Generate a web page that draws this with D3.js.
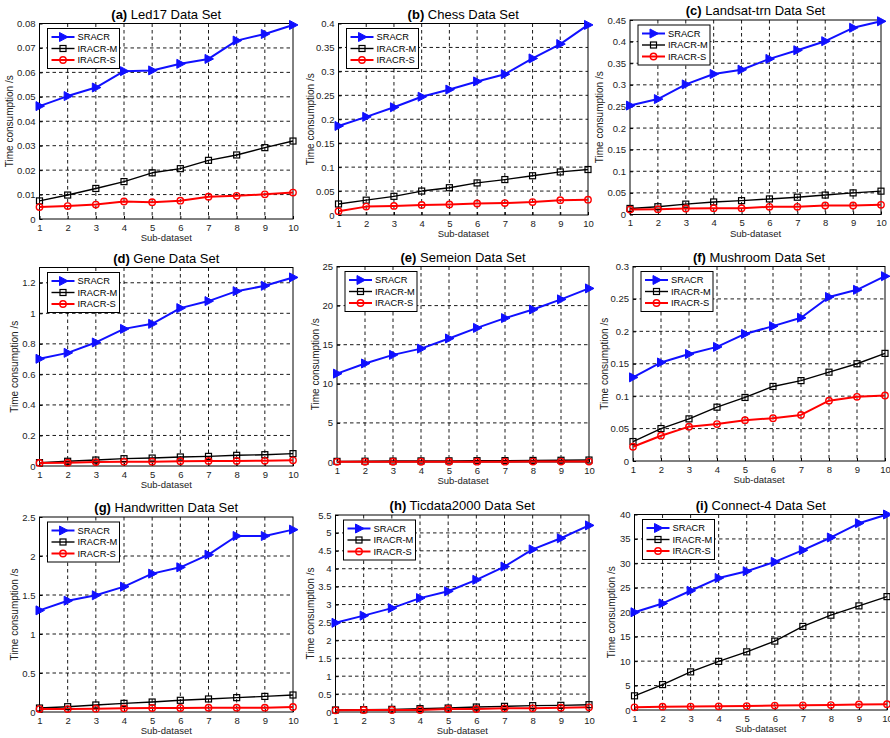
<!DOCTYPE html>
<html><head><meta charset="utf-8">
<script src="https://cdn.jsdelivr.net/npm/d3@7/dist/d3.min.js"></script>
<style>
body{margin:0;background:#fff}
svg{display:block}
text{font-family:Arial,"Liberation Sans",Helvetica,sans-serif}
</style>
</head><body>
<svg id="chart" width="890" height="738"></svg>
<script>
// ---------- data ----------
const subDatasets = [1,2,3,4,5,6,7,8,9,10];
const seriesNames = ["SRACR","IRACR-M","IRACR-S"];
const panelLetters = ["(a)","(b)","(c)","(d)","(e)","(f)","(g)","(h)","(i)"];
const panelNames = ["Led17 Data Set","Chess Data Set","Landsat-trn Data Set","Gene Data Set","Semeion Data Set","Mushroom Data Set","Handwritten Data Set","Ticdata2000 Data Set","Connect-4 Data Set"];
const xLabel = "Sub-dataset";
const yLabel = "Time consumption /s";

const led17SRACR = [0.0462,0.0503,0.0538,0.0605,0.0608,0.0635,0.0655,0.0730,0.0757,0.0794];
const led17M     = [0.0074,0.0098,0.0125,0.0153,0.0189,0.0206,0.0240,0.0262,0.0292,0.0319];
const led17S     = [0.0049,0.0053,0.0059,0.0072,0.0069,0.0075,0.0091,0.0095,0.0101,0.0108];
const led17Ticks = [0,0.01,0.02,0.03,0.04,0.05,0.06,0.07,0.08];

const chessSRACR = [0.186,0.205,0.225,0.247,0.262,0.279,0.294,0.327,0.357,0.397];
const chessM     = [0.023,0.031,0.039,0.050,0.057,0.067,0.074,0.082,0.090,0.095];
const chessS     = [0.008,0.0175,0.019,0.021,0.022,0.024,0.025,0.027,0.031,0.032];
const chessTicks = [0,0.05,0.1,0.15,0.2,0.25,0.3,0.35,0.4];

const landsatSRACR = [0.252,0.267,0.301,0.325,0.335,0.360,0.380,0.401,0.432,0.447];
const landsatM     = [0.014,0.018,0.024,0.029,0.032,0.036,0.040,0.045,0.050,0.054];
const landsatS     = [0.0115,0.0123,0.0139,0.0147,0.0147,0.0178,0.0178,0.0208,0.0208,0.0224];
const landsatTicks = [0,0.05,0.1,0.15,0.2,0.25,0.3,0.35,0.4,0.45];

const geneSRACR = [0.702,0.741,0.809,0.898,0.931,1.034,1.080,1.145,1.180,1.235];
const geneM     = [0.022,0.031,0.039,0.048,0.052,0.059,0.063,0.070,0.074,0.081];
const geneS     = [0.020,0.022,0.026,0.028,0.028,0.031,0.033,0.033,0.034,0.037];
const geneTicks = [0,0.2,0.4,0.6,0.8,1,1.2];
const geneMax   = 1.3;

const semeionSRACR = [11.3,12.6,13.7,14.5,15.8,17.15,18.4,19.5,20.8,22.2];
const semeionM     = [0.08,0.10,0.12,0.14,0.15,0.17,0.18,0.20,0.22,0.25];
const semeionS     = [0.02,0.025,0.03,0.03,0.035,0.04,0.045,0.05,0.055,0.06];
const semeionTicks = [0,5,10,15,20,25];

const mushroomSRACR = [0.129,0.152,0.165,0.176,0.196,0.208,0.221,0.253,0.264,0.285];
const mushroomM     = [0.030,0.050,0.065,0.083,0.098,0.115,0.124,0.137,0.150,0.166];
const mushroomS     = [0.022,0.039,0.053,0.057,0.063,0.066,0.071,0.093,0.099,0.101];
const mushroomTicks = [0,0.05,0.1,0.15,0.2,0.25,0.3];

const handSRACR = [1.303,1.427,1.496,1.607,1.774,1.855,2.017,2.256,2.256,2.338];
const handM     = [0.051,0.068,0.090,0.111,0.128,0.150,0.167,0.184,0.200,0.218];
const handS     = [0.038,0.038,0.043,0.047,0.051,0.051,0.056,0.056,0.056,0.064];
const handTicks = [0,0.5,1,1.5,2,2.5];

const ticSRACR = [2.49,2.69,2.90,3.18,3.37,3.69,4.06,4.54,4.85,5.21];
const ticM     = [0.056,0.065,0.074,0.093,0.111,0.139,0.158,0.177,0.186,0.204];
const ticS     = [0.046,0.056,0.056,0.056,0.084,0.084,0.102,0.102,0.121,0.130];
const ticTicks = [0,0.5,1,1.5,2,2.5,3,3.5,4,4.5,5,5.5];

const connectSRACR = [20.0,21.8,24.4,27.0,28.4,30.3,32.7,35.3,38.2,40.0];
const connectM     = [2.9,5.2,7.8,9.95,11.9,14.1,17.1,19.4,21.3,23.2];
const connectS     = [0.55,0.68,0.70,0.75,0.80,0.90,0.95,1.00,1.15,1.20];
const connectTicks = [0,5,10,15,20,25,30,35,40];

// ---------- layout (pixel boxes of each plot area) ----------
const boxes = [
  {L:39.5, T:23.5, R:293, B:219, yl:10},
  {L:338.5,T:23.5, R:588, B:215, yl:311},
  {L:630, T:20,   R:881, B:214.5,yl:600},
  {L:39.5, T:267.5,R:293, B:466, yl:15},
  {L:337, T:266.5,R:589, B:462, yl:316},
  {L:633, T:266.5,R:885, B:461, yl:605},
  {L:39.5, T:517, R:293, B:712, yl:15},
  {L:335.5,T:515, R:589, B:712, yl:311},
  {L:634.5,T:514.5,R:887, B:710, yl:612}
];

const panels = [
  {s:[led17SRACR,led17M,led17S], ticks:led17Ticks},
  {s:[chessSRACR,chessM,chessS], ticks:chessTicks},
  {s:[landsatSRACR,landsatM,landsatS], ticks:landsatTicks},
  {s:[geneSRACR,geneM,geneS], ticks:geneTicks, max:geneMax},
  {s:[semeionSRACR,semeionM,semeionS], ticks:semeionTicks},
  {s:[mushroomSRACR,mushroomM,mushroomS], ticks:mushroomTicks},
  {s:[handSRACR,handM,handS], ticks:handTicks},
  {s:[ticSRACR,ticM,ticS], ticks:ticTicks},
  {s:[connectSRACR,connectM,connectS], ticks:connectTicks}
];

const colors = ["#1010ff","#000000","#ff0000"];
const widths = [2,1.4,2];

const svg = d3.select("#chart");
const fmt = v => String(+v.toFixed(4));

function marker(g, k, color){
  if(k===0){
    g.append("path").attr("d","M-3.5,-4.5L5,0L-3.5,4.5Z").attr("fill",color).attr("stroke",color).attr("stroke-width",1);
  } else if(k===1){
    g.append("rect").attr("x",-3).attr("y",-3).attr("width",6).attr("height",6)
      .attr("fill","none").attr("stroke",color).attr("stroke-width",1.2);
  } else {
    g.append("circle").attr("r",3.2).attr("fill","none").attr("stroke",color).attr("stroke-width",1.4);
  }
}

panels.forEach((p,i)=>{
  const b = boxes[i];
  const yMax = p.max !== undefined ? p.max : p.ticks[p.ticks.length-1];
  const x = d3.scaleLinear().domain([1,10]).range([b.L,b.R]);
  const y = d3.scaleLinear().domain([0,yMax]).range([b.B,b.T]);
  const g = svg.append("g");

  // grid
  g.append("g").selectAll("line").data(subDatasets.slice(1,-1)).join("line")
    .attr("x1",d=>x(d)).attr("x2",d=>x(d)).attr("y1",b.T).attr("y2",b.B)
    .attr("stroke","#000").attr("stroke-width",0.9).attr("stroke-dasharray","3.5,3");
  g.append("g").selectAll("line").data(p.ticks.filter(t=>t>0 && t<yMax)).join("line")
    .attr("x1",b.L).attr("x2",b.R).attr("y1",d=>y(d)).attr("y2",d=>y(d))
    .attr("stroke","#000").attr("stroke-width",0.9).attr("stroke-dasharray","3.5,3");

  // axes
  const ax = g.append("g").attr("transform",`translate(0,${b.B})`)
    .call(d3.axisBottom(x).tickValues(subDatasets).tickSize(-3).tickPadding(5).tickFormat(d3.format("d")));
  const ay = g.append("g").attr("transform",`translate(${b.L},0)`)
    .call(d3.axisLeft(y).tickValues(p.ticks).tickSize(-3).tickPadding(4).tickFormat(fmt));
  [ax,ay].forEach(a=>{
    a.select(".domain").remove();
    a.selectAll("text").attr("font-size","9.5px").attr("fill","#222").attr("font-family","Arial, 'Liberation Sans', sans-serif");
    a.selectAll("line").attr("stroke","#000");
  });

  // box
  g.append("rect").attr("x",b.L).attr("y",b.T).attr("width",b.R-b.L).attr("height",b.B-b.T)
    .attr("fill","none").attr("stroke","#000").attr("stroke-width",1);

  // lines
  const line = d3.line().x((d,j)=>x(subDatasets[j])).y(d=>y(d));
  p.s.forEach((vals,k)=>{
    g.append("path").datum(vals).attr("d",line).attr("fill","none")
      .attr("stroke",colors[k]).attr("stroke-width",widths[k]).attr("stroke-linejoin","round");
  });
  p.s.forEach((vals,k)=>{
    vals.forEach((v,j)=>{
      const mg = g.append("g").attr("transform",`translate(${x(subDatasets[j])},${y(v)})`);
      marker(mg,k,colors[k]);
    });
  });

  // title
  const t = g.append("text").attr("x",(b.L+b.R)/2).attr("y",b.T-5).attr("text-anchor","middle")
    .attr("font-size","13px").attr("fill","#000");
  t.append("tspan").attr("font-weight","bold").text(panelLetters[i]);
  t.append("tspan").text(" "+panelNames[i]);

  // x label
  g.append("text").attr("x",(b.L+b.R)/2).attr("y",b.B+22).attr("text-anchor","middle")
    .attr("font-size","9.5px").attr("fill","#222").text(xLabel);
  // y label
  g.append("text").attr("transform",`translate(${b.yl+3},${(b.T+b.B)/2}) rotate(-90)`)
    .attr("text-anchor","middle").attr("font-size","10px").attr("fill","#222").text(yLabel);

  // legend
  const lx = b.L+8, ly = b.T+5;
  const lg = g.append("g").attr("transform",`translate(${lx},${ly})`);
  lg.append("rect").attr("width",72).attr("height",40).attr("fill","#fff").attr("stroke","#000").attr("stroke-width",1);
  seriesNames.forEach((nm,k)=>{
    const ry = 8.5 + k*11.5;
    lg.append("line").attr("x1",4).attr("x2",27).attr("y1",ry).attr("y2",ry)
      .attr("stroke",colors[k]).attr("stroke-width",widths[k]);
    const mg = lg.append("g").attr("transform",`translate(15.5,${ry})`);
    marker(mg,k,colors[k]);
    lg.append("text").attr("x",30).attr("y",ry+3.3).attr("font-size","9.3px").attr("fill","#000").text(nm);
  });
});
</script>
</body></html>
